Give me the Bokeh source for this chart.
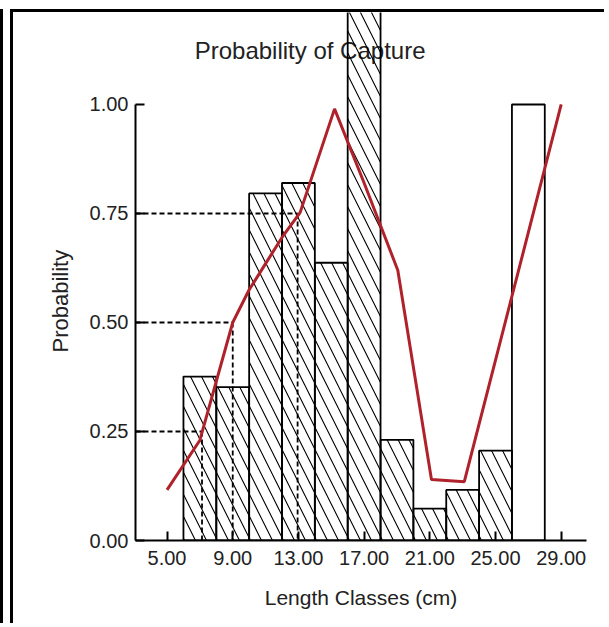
from bokeh.plotting import figure
from bokeh.models import (Range1d, FixedTicker, PrintfTickFormatter, Label, Title,
                          ColumnDataSource)
from bokeh.embed import file_html
from bokeh.resources import INLINE

# ---- data ----
class_mid = [7, 9, 11, 13, 15, 17, 19, 21, 23, 25, 27]          # length-class centres (cm)
class_width = 2.0
capture_prob = [0.376, 0.352, 0.796, 0.820, 0.637, 1.30, 0.231, 0.073, 0.116, 0.206, 1.00]
hatched = [True, True, True, True, True, True, True, True, True, True, False]

curve_x = [5.0, 7.0, 9.0, 10.0, 11.0, 12.0, 13.1, 15.2, 17.0, 19.05, 21.1, 23.1, 29.0]
curve_y = [0.116, 0.23, 0.50, 0.575, 0.635, 0.695, 0.752, 0.99, 0.82, 0.62, 0.14, 0.135, 1.0]

lc_prob = [0.25, 0.50, 0.75]       # L25, L50, L75
lc_len = [7.13, 9.0, 12.95]

x_ticks = [5, 9, 13, 17, 21, 25, 29]
y_ticks = [0.0, 0.25, 0.50, 0.75, 1.00]

X_START, X_END = 3.08, 30.54
Y_START, Y_END = 0.0, 1.211

FONT = "Liberation Sans"
TXT = "#222222"

p = figure(width=594, height=614,
           x_range=Range1d(X_START, X_END), y_range=Range1d(Y_START, Y_END),
           output_backend="svg", toolbar_location=None,
           min_border_left=122, min_border_right=21, min_border_top=0, min_border_bottom=86)
p.outline_line_color = None
p.grid.visible = False
p.background_fill_color = "white"
p.border_fill_color = "white"
p.styles = {"margin-left": "10px", "margin-top": "9px",
            "border-left": "3px solid black", "border-top": "3px solid black",
            "box-shadow": "-7px 0 0 0 white, -10px 0 0 0 black"}

# title drawn inside the plot, under the bars
p.add_layout(Label(x=13.71, y=1.124, text="Probability of Capture", text_align="center",
                   text_baseline="middle", text_font=FONT, text_font_size="24px",
                   text_color=TXT, level="underlay"))

left = [m - class_width / 2 for m in class_mid]
right = [m + class_width / 2 for m in class_mid]
hs = ColumnDataSource(dict(left=[l for l, h in zip(left, hatched) if h],
                           right=[r for r, h in zip(right, hatched) if h],
                           top=[v for v, h in zip(capture_prob, hatched) if h]))
ps = ColumnDataSource(dict(left=[l for l, h in zip(left, hatched) if not h],
                           right=[r for r, h in zip(right, hatched) if not h],
                           top=[v for v, h in zip(capture_prob, hatched) if not h]))
p.quad(left="left", right="right", top="top", bottom=0, source=hs,
       fill_color=None, line_color="black", line_width=1.8,
       hatch_pattern="left_diagonal_line", hatch_color="black", hatch_weight=1.1,
       hatch_scale=22)
p.quad(left="left", right="right", top="top", bottom=0, source=ps,
       fill_color=None, line_color="black", line_width=1.8)

# L25 / L50 / L75 guides
p.segment(x0=[X_START] * len(lc_len), y0=lc_prob, x1=lc_len, y1=lc_prob,
          line_color="black", line_width=1.8, line_dash="5 3")
p.segment(x0=lc_len, y0=lc_prob, x1=lc_len, y1=[0] * len(lc_len),
          line_color="black", line_width=1.8, line_dash="5 3")

p.line(curve_x, curve_y, line_color="#b0222b", line_width=3)

for ax in (p.xaxis[0], p.yaxis[0]):
    ax.axis_line_width = 2
    ax.major_tick_line_width = 2
    ax.major_tick_in = 9
    ax.major_tick_out = 0
    ax.minor_tick_line_color = None
    ax.major_label_text_font = FONT
    ax.major_label_text_font_size = "20px"
    ax.major_label_text_color = TXT
    ax.axis_label_text_font = FONT
    ax.axis_label_text_font_size = "21px"
    ax.axis_label_text_font_style = "normal"
    ax.axis_label_text_color = TXT
    ax.formatter = PrintfTickFormatter(format="%.2f")

p.xaxis.ticker = FixedTicker(ticks=x_ticks)
p.yaxis.ticker = FixedTicker(ticks=y_ticks)
p.xaxis.bounds = (X_START, X_END)
p.yaxis.bounds = (0, 1)
p.xaxis.axis_label = "Length Classes (cm)"
p.xaxis.major_label_standoff = 10
p.yaxis.major_label_standoff = 7
p.xaxis.axis_label_standoff = 18

# y-axis title in the left panel, shifted to sit where the reference has it
p.add_layout(Title(text="Probability", align="left", offset=188, standoff=27,
                   text_font=FONT, text_font_size="22px", text_font_style="normal",
                   text_color=TXT), "left")

open("out.html", "w").write(file_html(p, INLINE))
